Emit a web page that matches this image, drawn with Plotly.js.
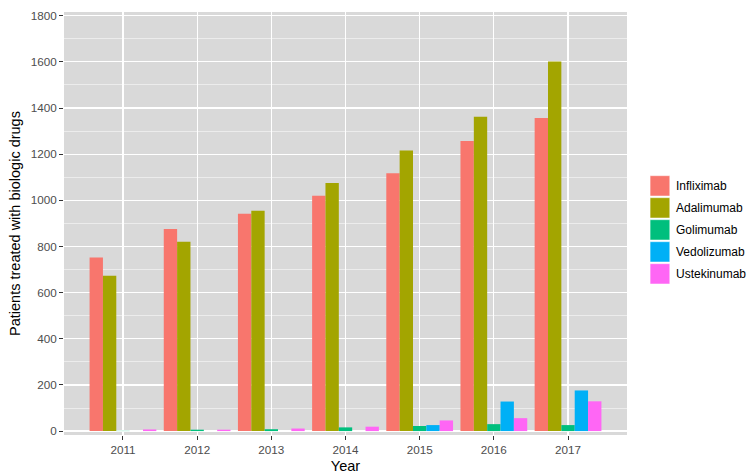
<!DOCTYPE html>
<html>
<head>
<meta charset="utf-8">
<script src="https://cdn.plot.ly/plotly-3.0.1.min.js"></script>
<style>
  html, body { margin: 0; padding: 0; background: #fff; }
  #chart { width: 752px; height: 476px; }
</style>
</head>
<body>
<div id="chart"></div>
<script>
// values
var years = [2011, 2012, 2013, 2014, 2015, 2016, 2017];
var drugs = ['Infliximab', 'Adalimumab', 'Golimumab', 'Vedolizumab', 'Ustekinumab'];
var colors = ['#F8766D', '#A3A500', '#00BF7D', '#00B0F6', '#FF66F5'];

var infliximab  = [752, 876, 942, 1020, 1117, 1257, 1357];
var adalimumab  = [673, 820, 955, 1075, 1216, 1362, 1602];
var golimumab   = [1, 6, 8, 16, 22, 30, 26];
var vedolizumab = [0, 0, 0, 0, 26, 128, 176];
var ustekinumab = [7, 6, 11, 19, 46, 56, 129];

var series = [infliximab, adalimumab, golimumab, vedolizumab, ustekinumab];

var traces = series.map(function (vals, i) {
    return {
        type: 'bar',
        name: drugs[i],
        x: years,
        y: vals,
        marker: {color: colors[i], line: {width: 0}},
        showlegend: false,
        hoverinfo: 'x+y+name'
    };
});

// legend drawn by hand so the keys look like ggplot's big squares
var shapes = [];
var annotations = [];
var legTop = 0.613;   // paper units (y of first key's top)
var step = 0.052;
var keyH = 0.048;
drugs.forEach(function (d, i) {
    var y1 = legTop - i * step;
    shapes.push({
        type: 'rect', xref: 'paper', yref: 'paper',
        x0: 1.041, x1: 1.076, y0: y1 - keyH, y1: y1,
        fillcolor: colors[i], line: {width: 0.5, color: '#ffffff'}
    });
    annotations.push({
        xref: 'paper', yref: 'paper', x: 1.084, y: y1 - keyH / 2,
        xanchor: 'left', yanchor: 'middle', showarrow: false,
        text: d, font: {family: 'Liberation Sans, Arial, sans-serif', size: 12, color: '#000'}
    });
});

var layout = {
    width: 752,
    height: 476,
    margin: {l: 64, r: 125, t: 12, b: 41},
    paper_bgcolor: '#ffffff',
    plot_bgcolor: '#D9D9D9',
    barmode: 'group',
    bargap: 0.1,
    bargroupgap: 0,
    font: {family: 'Liberation Sans, Arial, sans-serif'},
    xaxis: {
        range: [2010.205, 2017.795],
        tickvals: years,
        ticktext: years.map(String),
        ticks: 'outside', ticklen: 4, tickcolor: '#333333', tickwidth: 1,
        tickfont: {size: 11.7, color: '#4D4D4D'},
        showgrid: true, gridcolor: '#ffffff', gridwidth: 1.2,
        zeroline: false, showline: false,
        title: {text: 'Year', font: {size: 14.5, color: '#000'}, standoff: 5}
    },
    yaxis: {
        range: [-17, 1816],
        tickvals: [0, 200, 400, 600, 800, 1000, 1200, 1400, 1600, 1800],
        ticks: 'outside', ticklen: 4, tickcolor: '#333333', tickwidth: 1,
        tickfont: {size: 11.7, color: '#4D4D4D'},
        showgrid: true, gridcolor: '#ffffff', gridwidth: 1.2,
        minor: {tickvals: [100, 300, 500, 700, 900, 1100, 1300, 1500, 1700], showgrid: true, gridcolor: '#ffffff', gridwidth: 0.5, ticks: ''},
        zeroline: false, showline: false,
        title: {text: 'Patients treated with biologic drugs', font: {size: 14.5, color: '#000'}, standoff: 6}
    },
    shapes: shapes,
    annotations: annotations
};

Plotly.newPlot('chart', traces, layout, {displayModeBar: false, staticPlot: true});
</script>
</body>
</html>
